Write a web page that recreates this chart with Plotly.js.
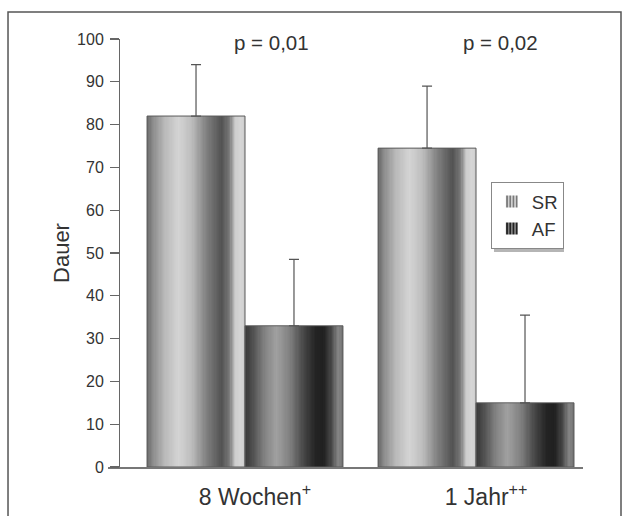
<!DOCTYPE html>
<html>
<head>
<meta charset="utf-8">
<script src="https://cdn.plot.ly/plotly-3.0.1.min.js"></script>
<style>html,body{margin:0;padding:0;background:#fff;}#chart{width:624px;height:516px;}</style>
</head>
<body>
<div id="chart"></div>
<script>
// ---- data ----
var categories = ["8 Wochen<sup>+</sup>", "1 Jahr<sup>++</sup>"];
var categoryPos = [0, 1];
var seriesNames = ["SR", "AF"];
var srValues = [82, 74.5];
var srErrUp = [12, 14.5];
var afValues = [33, 15];
var afErrUp = [15.5, 20.5];
var pLabels = ["p = 0,01", "p = 0,02"];

// ---- styles ----
var barW = 0.424;
var N = 80;
// gradient stops [position, gray level]
var srStops = [[0,105],[0.06,140],[0.18,185],[0.32,212],[0.45,190],[0.6,130],[0.76,82],[0.84,120],[0.9,205],[0.96,215],[1,200]];
var afStops = [[0,55],[0.08,80],[0.2,130],[0.32,160],[0.45,130],[0.6,70],[0.72,35],[0.8,32],[0.88,70],[0.95,135],[1,110]];

function grayAt(stops, t){
  for (var i=1;i<stops.length;i++){
    if (t <= stops[i][0]){
      var a = stops[i-1], b = stops[i];
      var f = (t - a[0]) / (b[0] - a[0]);
      var g = Math.round(a[1] + f*(b[1]-a[1]));
      return 'rgb('+g+','+g+','+g+')';
    }
  }
  var g2 = stops[stops.length-1][1];
  return 'rgb('+g2+','+g2+','+g2+')';
}

var traces = [];
function addSlices(values, stops, baseOffset){
  var sw = barW / N;
  for (var i=0;i<N;i++){
    var t = (i+0.5)/N;
    traces.push({
      type:'bar', x: categoryPos, y: values,
      offset: baseOffset + i*sw, width: (i < N-1 ? sw*2.2 : sw),
      marker:{color: grayAt(stops,t), line:{width:0}},
      showlegend:false, hoverinfo:'skip'
    });
  }
}
addSlices(srValues, srStops, -barW);
addSlices(afValues, afStops, 0);

function addOutline(values, err, baseOffset){
  traces.push({
    type:'bar', x: categoryPos, y: values,
    offset: baseOffset, width: barW,
    marker:{color:'rgba(0,0,0,0)', line:{color:'#5a5a5a', width:1}},
    error_y:{type:'data', symmetric:false, array: err, arrayminus:[0,0], color:'#555', thickness:1.2, width:5},
    showlegend:false, hoverinfo:'skip'
  });
}
addOutline(srValues, srErrUp, -barW);
addOutline(afValues, afErrUp, 0);

// legend-only entries
traces.push({type:'bar', x:[null], y:[null], name: seriesNames[0],
  marker:{color:'#c8c8c8', pattern:{shape:'|', fgcolor:'#707070', bgcolor:'#d0d0d0', size:4, solidity:0.45}, line:{width:0}}});
traces.push({type:'bar', x:[null], y:[null], name: seriesNames[1],
  marker:{color:'#333', pattern:{shape:'|', fgcolor:'#222', bgcolor:'#8a8a8a', size:4, solidity:0.55}, line:{width:0}}});

var annotations = [
  {x: categoryPos[0]+0.113, y: 99.3, xref:'x', yref:'y', text: pLabels[0], showarrow:false, font:{size:20.5, color:'#333'}},
  {x: categoryPos[1]+0.105, y: 99.3, xref:'x', yref:'y', text: pLabels[1], showarrow:false, font:{size:20.5, color:'#333'}}
];

var layout = {
  width:624, height:516,
  margin:{l:108, r:41, t:39, b:49},
  paper_bgcolor:'#fff', plot_bgcolor:'#fff',
  font:{family:'"Liberation Sans", Arial, sans-serif', color:'#333'},
  barmode:'overlay', bargap:0,
  showlegend:true,
  legend:{x:0.806, y:0.666, xanchor:'left', yanchor:'top', bgcolor:'#fff', bordercolor:'#888', borderwidth:1,
          font:{size:18.5, color:'#333'}, itemwidth:30, tracegroupgap:4},
  xaxis:{range:[-0.593, 1.463], tickvals: categoryPos, ticktext: categories, ticks:'', showline:true,
         linecolor:'#777', linewidth:1.5, showgrid:false, zeroline:false, fixedrange:true,
         tickfont:{size:23, color:'#333'}, ticklabelstandoff:9, ticklabelshift:10},
  yaxis:{range:[0,100], dtick:10, anchor:'free', position:0.0232, showline:true, linecolor:'#666', linewidth:1.2,
         ticks:'outside', ticklen:9, tickcolor:'#666', tickwidth:1.2, showgrid:false, zeroline:false,
         tickfont:{size:16, color:'#333'}, ticklabelstandoff:3,
         title:{text:'Dauer', font:{size:22, color:'#333'}, standoff:0}},
  annotations: annotations,
  shapes:[
    {type:'rect', xref:'paper', yref:'paper', x0:-0.2105, x1:1.08, y0:-0.12, y1:1.063, line:{color:'#555', width:1.5}, fillcolor:'rgba(0,0,0,0)', layer:'below'},
    {type:'rect', xref:'paper', yref:'paper', x0:0.8126, x1:0.96, y0:0.5023, y1:0.6565, line:{width:0}, fillcolor:'#b5b5b5', layer:'above'}
  ]
};

Plotly.newPlot('chart', traces, layout, {displayModeBar:false, staticPlot:true});
</script>
</body>
</html>
